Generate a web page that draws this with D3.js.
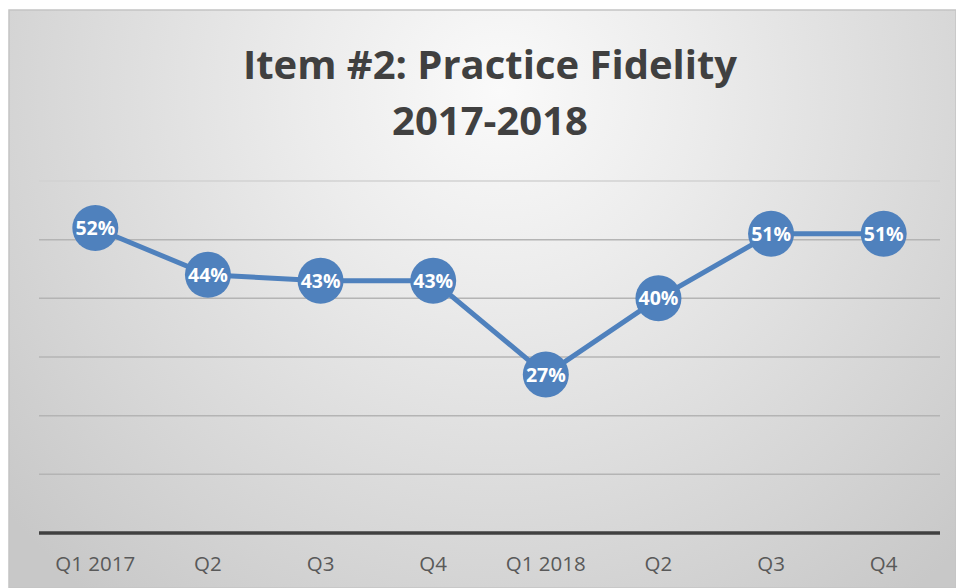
<!DOCTYPE html>
<html>
<head>
<meta charset="utf-8">
<script src="https://cdn.jsdelivr.net/npm/d3@7"></script>
<style>
  body { margin: 0; background: #fff; }
  svg { display: block; }
</style>
</head>
<body>
<div id="chart"></div>
<script>
const quarters = ['Q1 2017', 'Q2', 'Q3', 'Q4', 'Q1 2018', 'Q2', 'Q3', 'Q4']
const fidelity = [52, 44, 43, 43, 27, 40, 51, 51]
const gridTicks = [0, 10, 20, 30, 40, 50, 60]
const titleLines = ['Item #2: Practice Fidelity', '2017-2018']

const width = 956
const height = 588
const plot = { left: 39, right: 940, top: 181, bottom: 533 }

const svg = d3.select('#chart').append('svg')
  .attr('width', width)
  .attr('height', height)

// background gradient, light at top middle, grey toward corners
const defs = svg.append('defs')
const grad = defs.append('radialGradient')
  .attr('id', 'bg')
  .attr('gradientUnits', 'userSpaceOnUse')
  .attr('cx', 500).attr('cy', 90).attr('r', 650)
grad.append('stop').attr('offset', '0%').attr('stop-color', '#fafafa')
grad.append('stop').attr('offset', '30%').attr('stop-color', '#ececec')
grad.append('stop').attr('offset', '100%').attr('stop-color', '#c8c8c8')

svg.append('rect')
  .attr('x', 9).attr('y', 10)
  .attr('width', width - 9).attr('height', height - 10)
  .attr('fill', 'url(#bg)')
  .attr('stroke', '#c4c4c4')
  .attr('stroke-width', 1.5)

// index-based band scale so repeated labels (Q2, Q3...) stay separate
const x = d3.scaleBand()
  .domain(d3.range(quarters.length))
  .range([plot.left, plot.right])

const y = d3.scaleLinear()
  .domain([0, 60])
  .range([plot.bottom, plot.top])

const cx = i => x(i) + x.bandwidth() / 2

// gridlines
svg.append('g')
  .selectAll('line')
  .data(gridTicks.filter(d => d > 0))
  .join('line')
  .attr('x1', plot.left).attr('x2', plot.right)
  .attr('y1', d => y(d)).attr('y2', d => y(d))
  .attr('stroke', d => d === 60 ? '#d2d2d2' : '#b4b4b4')
  .attr('stroke-width', 1.5)

// baseline axis
svg.append('line')
  .attr('x1', plot.left).attr('x2', plot.right)
  .attr('y1', y(0)).attr('y2', y(0))
  .attr('stroke', '#404040')
  .attr('stroke-width', 3.5)

// category labels
svg.append('g')
  .selectAll('text')
  .data(quarters)
  .join('text')
  .attr('x', (d, i) => cx(i))
  .attr('y', 571)
  .attr('text-anchor', 'middle')
  .attr('font-family', 'Open Sans, Carlito, sans-serif')
  .attr('font-size', 20.5)
  .attr('fill', '#595959')
  .text(d => d)

// title
svg.append('text')
  .attr('x', 490)
  .attr('y', 79)
  .attr('text-anchor', 'middle')
  .attr('font-family', 'Open Sans, sans-serif')
  .attr('font-weight', 'bold')
  .attr('font-size', 40)
  .attr('fill', '#404040')
  .selectAll('tspan')
  .data(titleLines)
  .join('tspan')
  .attr('x', 490)
  .attr('dy', (d, i) => i === 0 ? 0 : 56)
  .text(d => d)

// line
const line = d3.line()
  .x((d, i) => cx(i))
  .y(d => y(d))

svg.append('path')
  .datum(fidelity)
  .attr('d', line)
  .attr('fill', 'none')
  .attr('stroke', '#4f81bd')
  .attr('stroke-width', 5)

// markers with labels
const pts = svg.append('g')
  .selectAll('g')
  .data(fidelity)
  .join('g')
  .attr('transform', (d, i) => `translate(${cx(i)},${y(d)})`)

pts.append('circle')
  .attr('r', 23)
  .attr('fill', '#4f81bd')

pts.append('text')
  .attr('text-anchor', 'middle')
  .attr('dy', '0.36em')
  .attr('font-family', 'Open Sans, sans-serif')
  .attr('font-weight', 'bold')
  .attr('font-size', 19.5)
  .attr('fill', '#ffffff')
  .text(d => d + '%')
</script>
</body>
</html>
